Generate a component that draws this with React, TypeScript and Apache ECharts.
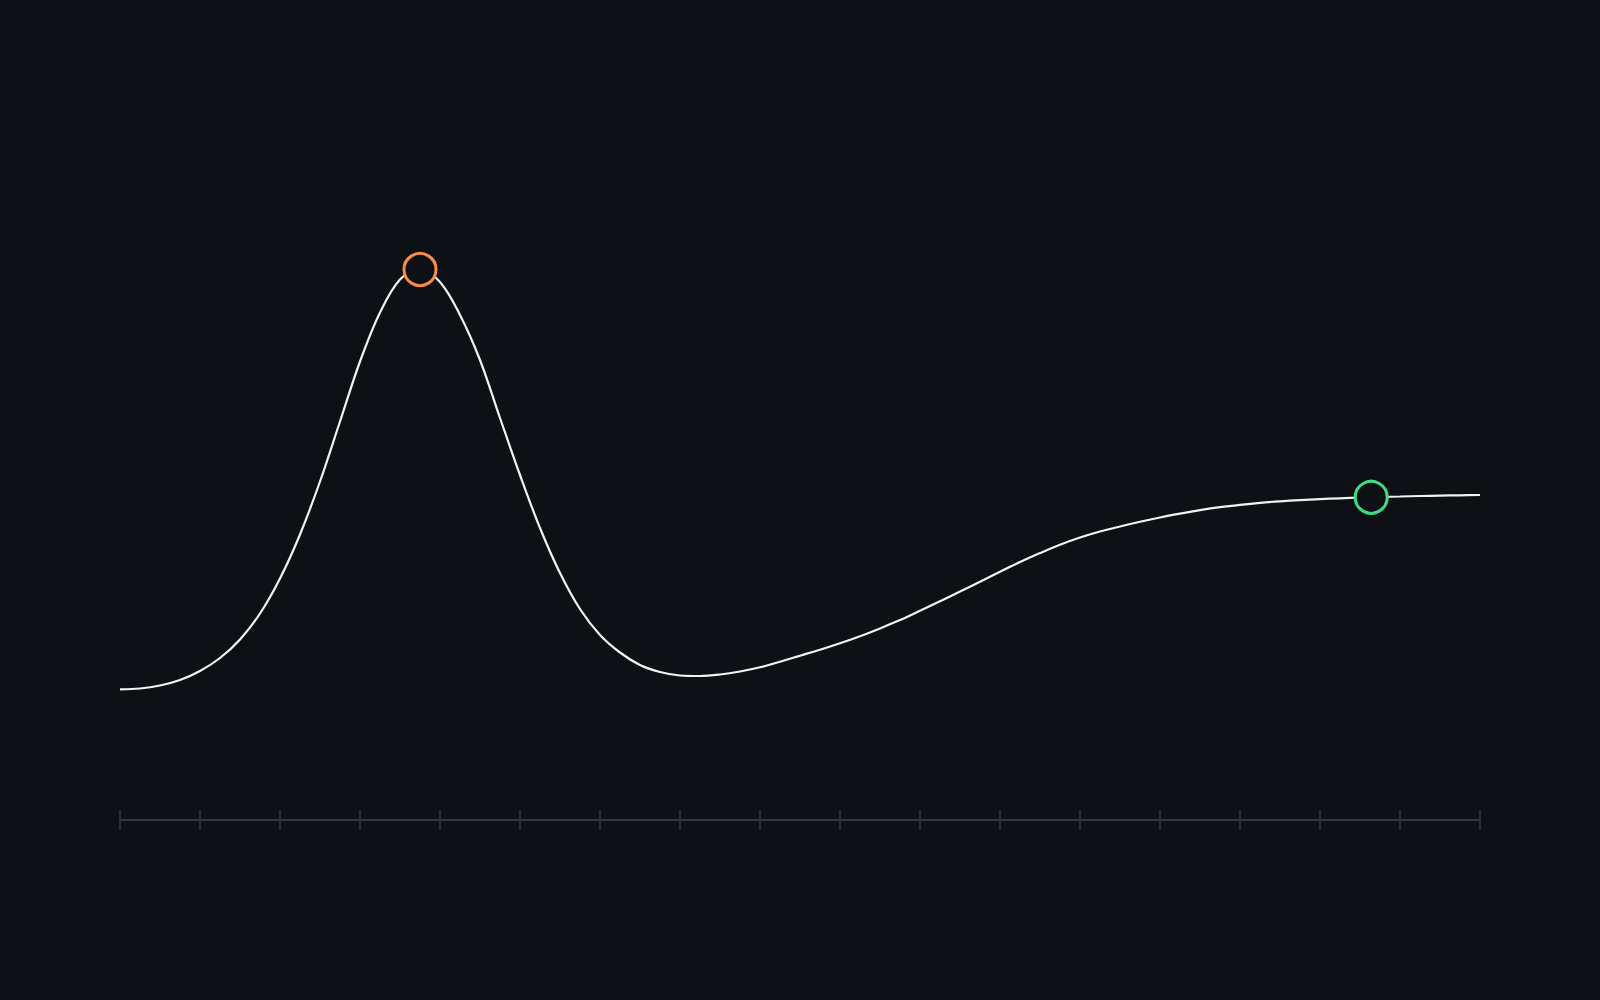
import { useEffect, useRef } from 'react';
import * as echarts from 'echarts';

// hype curve, x in tick units (0..17), y in arbitrary units (0..72)
const curveX = [
  0, 0.25, 0.5, 0.75, 1, 1.25, 1.5, 1.75, 2, 2.25, 2.5, 2.75, 3, 3.25, 3.5, 3.75,
  4, 4.25, 4.5, 4.75, 5, 5.25, 5.5, 5.75, 6, 6.25, 6.5, 6.75, 7, 7.25, 7.5, 7.75,
  8, 8.25, 8.5, 8.75, 9, 9.25, 9.5, 9.75, 10, 10.25, 10.5, 10.75, 11, 11.25, 11.5, 11.75,
  12, 12.25, 12.5, 12.75, 13, 13.25, 13.5, 13.75, 14, 14.25, 14.5, 14.75, 15, 15.25, 15.5, 15.75,
  16, 16.25, 16.5, 16.75, 17,
];
const curveY = [
  13.07, 13.15, 13.45, 14.0, 14.9, 16.2, 18.05, 20.65, 24.15, 28.55, 33.85, 39.85, 45.85, 50.75, 54.05, 55.05,
  53.8, 50.5, 46.0, 40.2, 34.5, 29.2, 24.7, 21.1, 18.5, 16.75, 15.5, 14.8, 14.45, 14.4, 14.55, 14.85,
  15.27, 15.83, 16.43, 17.03, 17.68, 18.38, 19.16, 19.99, 20.93, 21.88, 22.84, 23.83, 24.83, 25.79, 26.69, 27.53,
  28.25, 28.85, 29.35, 29.82, 30.25, 30.63, 30.98, 31.28, 31.52, 31.72, 31.87, 31.99, 32.09, 32.17, 32.24, 32.3,
  32.35, 32.4, 32.44, 32.47, 32.5,
];

const peakPoint = [3.75, 55.05];
const plateauPoint = [15.64, 32.27];

const BG = '#0d1014';
const AXIS = '#353a41';

export default function App() {
  const chartRef = useRef<HTMLDivElement>(null);

  useEffect(() => {
    if (!chartRef.current) return;
    const chart = echarts.init(chartRef.current, undefined, { renderer: 'svg' });

    // two axes on the same line so the ticks cross it
    const tickAxis = (inside: boolean, showLine: boolean) => ({
      type: 'value' as const,
      position: 'bottom' as const,
      min: 0,
      max: 17,
      interval: 1,
      axisLine: { show: showLine, onZero: false, lineStyle: { color: AXIS, width: 2 } },
      axisTick: { show: true, inside, length: 10, lineStyle: { color: AXIS, width: 1.5 } },
      axisLabel: { show: false },
      splitLine: { show: false },
    });

    const marker = (point: number[], color: string) => ({
      type: 'scatter',
      data: [point],
      symbol: 'circle',
      symbolSize: 32,
      itemStyle: { color: BG, borderColor: color, borderWidth: 3, opacity: 1 },
      emphasis: { disabled: true },
      z: 3,
    });

    chart.setOption({
      animation: false,
      backgroundColor: BG,
      grid: { left: 120, right: 120, top: 100, bottom: 180 },
      xAxis: [tickAxis(false, true), tickAxis(true, false)],
      yAxis: { type: 'value', show: false, min: 0, max: 72 },
      series: [
        {
          type: 'line',
          data: curveX.map((x, i) => [x, curveY[i]]),
          smooth: 0.35,
          showSymbol: false,
          lineStyle: { color: '#f2f2f2', width: 2.2 },
          z: 2,
        },
        marker(peakPoint, '#f98e42'),
        marker(plateauPoint, '#3ddc84'),
      ],
    });

    return () => chart.dispose();
  }, []);

  return (
    <div
      ref={chartRef}
      style={{ position: 'fixed', left: 0, top: 0, width: '1600px', height: '1000px' }}
    />
  );
}
